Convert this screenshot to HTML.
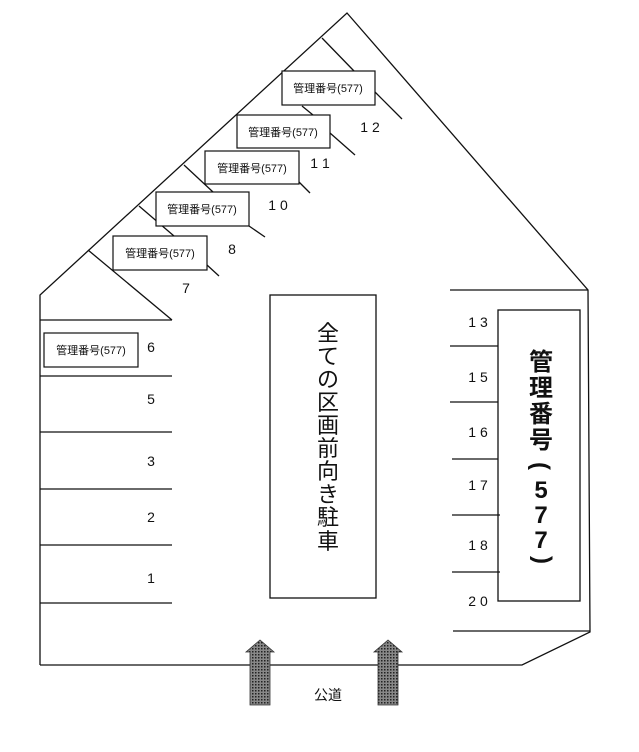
<!DOCTYPE html>
<html><head><meta charset="utf-8"><style>
body{margin:0;background:#fff;}
svg text{font-family:"Liberation Sans","Noto Sans CJK JP",sans-serif;fill:#111;}
</style></head><body>
<svg width="639" height="747" viewBox="0 0 639 747" xmlns="http://www.w3.org/2000/svg">
<defs><pattern id="dot" width="3" height="3" patternUnits="userSpaceOnUse"><rect width="3" height="3" fill="#888"/><rect width="1.5" height="1.5" fill="#222"/></pattern></defs>
<g stroke="#111" stroke-width="1.3" fill="none">
<polyline points="40,665 40,295 347,13 588,290 590,632 522,665 40,665"/>
<line x1="40" y1="320" x2="172" y2="320"/>
<line x1="40" y1="376" x2="172" y2="376"/>
<line x1="40" y1="432" x2="172" y2="432"/>
<line x1="40" y1="489" x2="172" y2="489"/>
<line x1="40" y1="545" x2="172" y2="545"/>
<line x1="40" y1="603" x2="172" y2="603"/>
<line x1="88" y1="250" x2="172" y2="320"/>
<line x1="322" y1="38" x2="354" y2="71"/>
<line x1="375" y1="92" x2="402" y2="119"/>
<line x1="302" y1="106" x2="313" y2="115"/>
<line x1="330" y1="133" x2="355" y2="155"/>
<line x1="184" y1="165" x2="213" y2="192"/>
<line x1="299" y1="182" x2="310" y2="193"/>
<line x1="139" y1="206" x2="174" y2="236"/>
<line x1="249" y1="226" x2="265" y2="237"/>
<line x1="207" y1="265" x2="219" y2="276"/>
<line x1="450" y1="290" x2="588" y2="290"/>
<line x1="450" y1="346" x2="498" y2="346"/>
<line x1="450" y1="402" x2="498" y2="402"/>
<line x1="452" y1="459" x2="498" y2="459"/>
<line x1="452" y1="515" x2="500" y2="515"/>
<line x1="452" y1="572" x2="500" y2="572"/>
<line x1="453" y1="631" x2="590" y2="631"/>
<rect x="498" y="310" width="82" height="291"/>
<rect x="270" y="295" width="106" height="303"/>
</g>
<g stroke="#111" stroke-width="1.2" fill="#fff">
<rect x="282" y="71" width="93" height="34"/>
<rect x="237" y="115" width="93" height="33"/>
<rect x="205" y="151" width="94" height="33"/>
<rect x="156" y="192" width="93" height="34"/>
<rect x="113" y="236" width="94" height="34"/>
<rect x="44" y="333" width="94" height="34"/>
</g>
<g font-size="11" text-anchor="middle">
<text x="328" y="92">管理番号(577)</text>
<text x="283" y="136">管理番号(577)</text>
<text x="252" y="172">管理番号(577)</text>
<text x="202" y="213">管理番号(577)</text>
<text x="160" y="257">管理番号(577)</text>
<text x="91" y="354">管理番号(577)</text>
</g>
<g font-size="14" text-anchor="middle">
<text x="370" y="132">1 2</text>
<text x="320" y="168">1 1</text>
<text x="278" y="210">1 0</text>
<text x="232" y="254">8</text>
<text x="186" y="293">7</text>
<text x="151" y="352">6</text>
<text x="151" y="404">5</text>
<text x="151" y="466">3</text>
<text x="151" y="522">2</text>
<text x="151" y="583">1</text>
<text x="478" y="327">1 3</text>
<text x="478" y="382">1 5</text>
<text x="478" y="437">1 6</text>
<text x="478" y="490">1 7</text>
<text x="478" y="550">1 8</text>
<text x="478" y="606">2 0</text>
</g>
<g font-size="22" text-anchor="middle">
<text x="328" y="341">全</text><text x="328" y="364">て</text><text x="328" y="387">の</text><text x="328" y="410">区</text><text x="328" y="433">画</text><text x="328" y="456">前</text><text x="328" y="479">向</text><text x="328" y="502">き</text><text x="328" y="525">駐</text><text x="328" y="549">車</text>
</g>
<g font-size="24" font-weight="bold" text-anchor="middle">
<text x="541" y="370">管</text><text x="541" y="396">理</text><text x="541" y="422">番</text><text x="541" y="448">号</text>
<text x="541" y="474" transform="rotate(90 541 466)">(</text>
<text x="541" y="498">5</text><text x="541" y="523">7</text><text x="541" y="548">7</text>
<text x="541" y="566" transform="rotate(90 541 560)">)</text>
</g>
<polygon points="260,640 246,652 250,652 250,705 270,705 270,652 274,652" fill="url(#dot)" stroke="#333" stroke-width="0.8"/>
<polygon points="388,640 374,652 378,652 378,705 398,705 398,652 402,652" fill="url(#dot)" stroke="#333" stroke-width="0.8"/>
<text x="328" y="700" font-size="14" text-anchor="middle">公道</text>
</svg>
</body></html>
